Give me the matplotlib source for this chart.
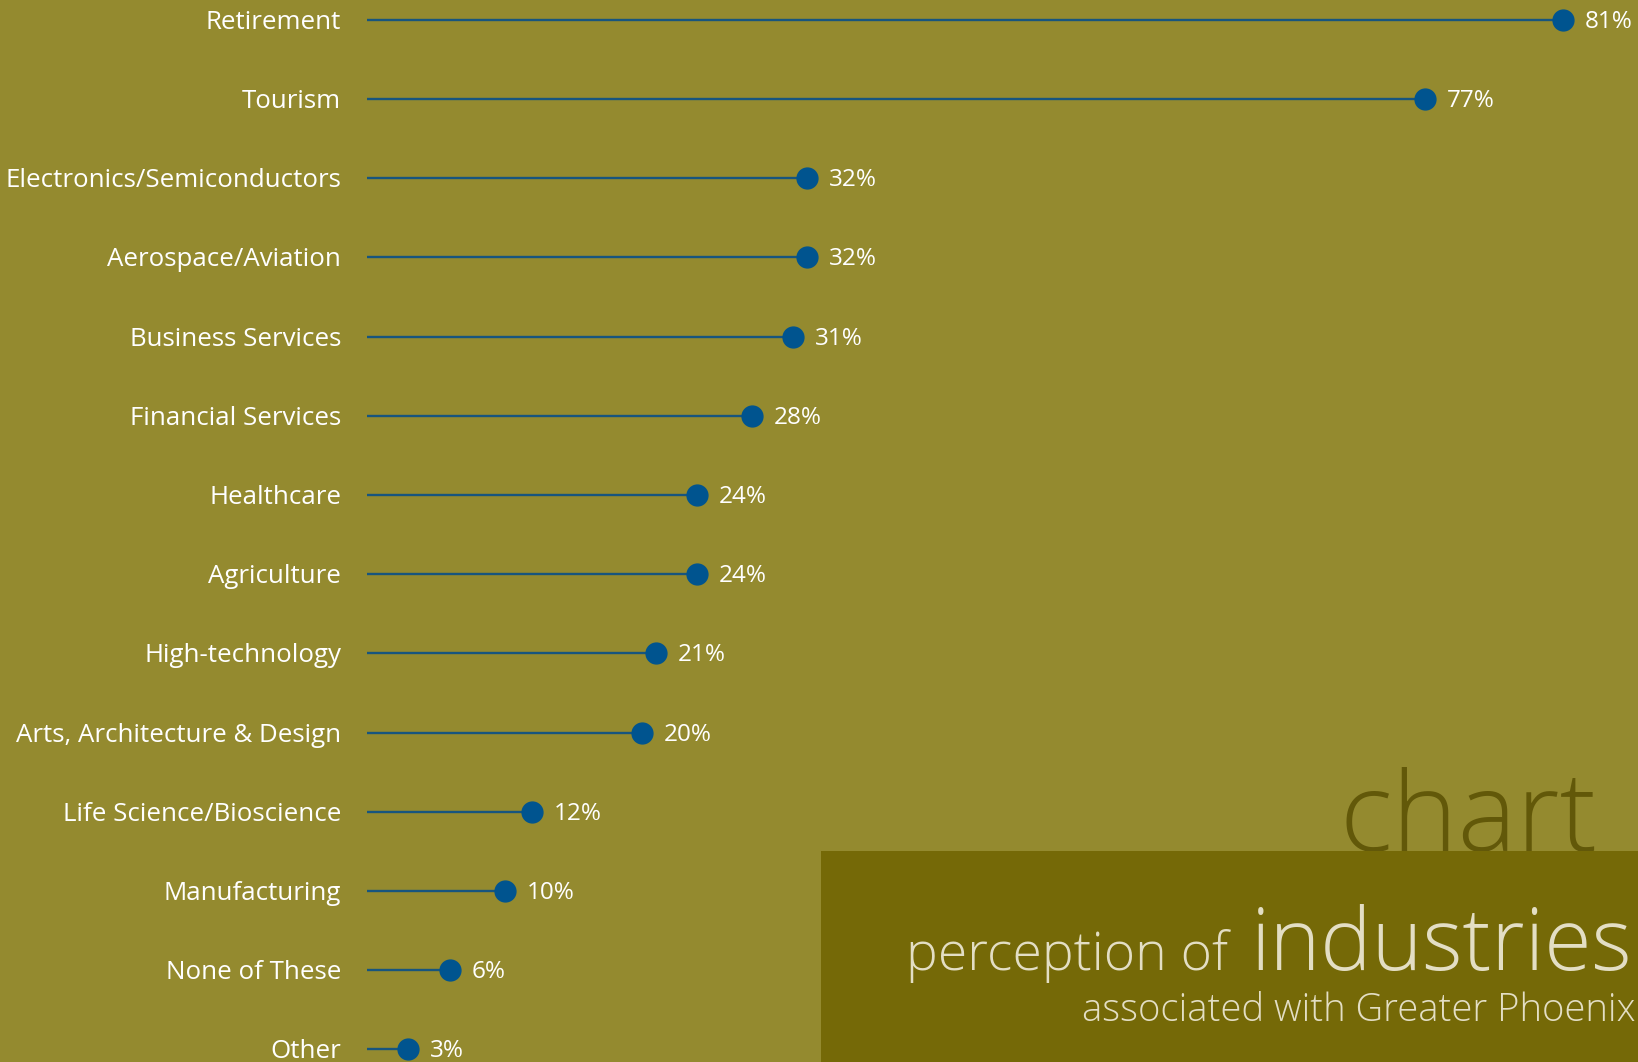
import matplotlib
matplotlib.use("Agg")
import matplotlib.pyplot as plt
from matplotlib.patches import Rectangle

categories = ["Retirement", "Tourism", "Electronics/Semiconductors", "Aerospace/Aviation",
              "Business Services", "Financial Services", "Healthcare", "Agriculture",
              "High-technology", "Arts, Architecture & Design", "Life Science/Bioscience",
              "Manufacturing", "None of These", "Other"]
# dot positions as drawn in the reference (percent)
values = [87, 77, 32, 32, 31, 28, 24, 24, 21, 20, 12, 10, 6, 3]
# value labels as printed in the reference
value_labels = ["81%", "77%", "32%", "32%", "31%", "28%", "24%", "24%", "21%", "20%",
                "12%", "10%", "6%", "3%"]

BG = "#948A2F"
BOX = "#756907"
DOT = "#00548F"
LINE = "#17557E"
CHART_C = "#625809"
TITLE_C = "#E3DEC4"
FONT = "Open Sans"

W, H = 1638, 1062
fig = plt.figure(figsize=(W / 100, H / 100), dpi=100, facecolor=BG)
ax = fig.add_axes([0, 0, 1, 1], facecolor=BG)

x0_px, xs = 367.2, 13.74
y0_px, ys = 19.8, 79.2
ax.set_xlim(-x0_px / xs, (W - x0_px) / xs)
ax.set_ylim((H - y0_px) / ys, -y0_px / ys)
ax.axis("off")

for i, (cat, v, lab) in enumerate(zip(categories, values, value_labels)):
    ax.plot([0, v], [i, i], color=LINE, lw=1.7, solid_capstyle="butt", zorder=2)
    ax.plot([v], [i], "o", color=DOT, ms=15, mec=DOT, zorder=3)
    ax.annotate(cat, xy=(0, i), xytext=(-26, -9), textcoords="offset pixels",
                ha="right", va="baseline", color="white", fontsize=18.6, family=FONT)
    ax.annotate(lab, xy=(v, i), xytext=(22, -8), textcoords="offset pixels",
                ha="left", va="baseline", color="white", fontsize=17.5, family=FONT)

# title box
fig.patches.append(Rectangle((821 / W, 0), 1 - 821 / W, (H - 851) / H,
                             transform=fig.transFigure, facecolor=BOX, edgecolor="none", zorder=1))

fig.text(1597 / W, 1 - 851 / H, "chart", ha="right", va="baseline", color=CHART_C,
         fontsize=80, family=FONT, fontweight="light", zorder=0)
fig.text(1633 / W, 1 - 970 / H, "industries", ha="right", va="baseline", color=TITLE_C,
         fontsize=62, family=FONT, fontweight="light", zorder=5)
fig.text(1228 / W, 1 - 970 / H, "perception of", ha="right", va="baseline", color=TITLE_C,
         fontsize=38.5, family=FONT, fontweight="light", zorder=5)
fig.text(1635 / W, 1 - 1021 / H, "associated with Greater Phoenix", ha="right", va="baseline",
         color=TITLE_C, fontsize=27.5, family=FONT, fontweight="light", zorder=5)

fig.savefig("out.png", dpi=100, facecolor=BG)
